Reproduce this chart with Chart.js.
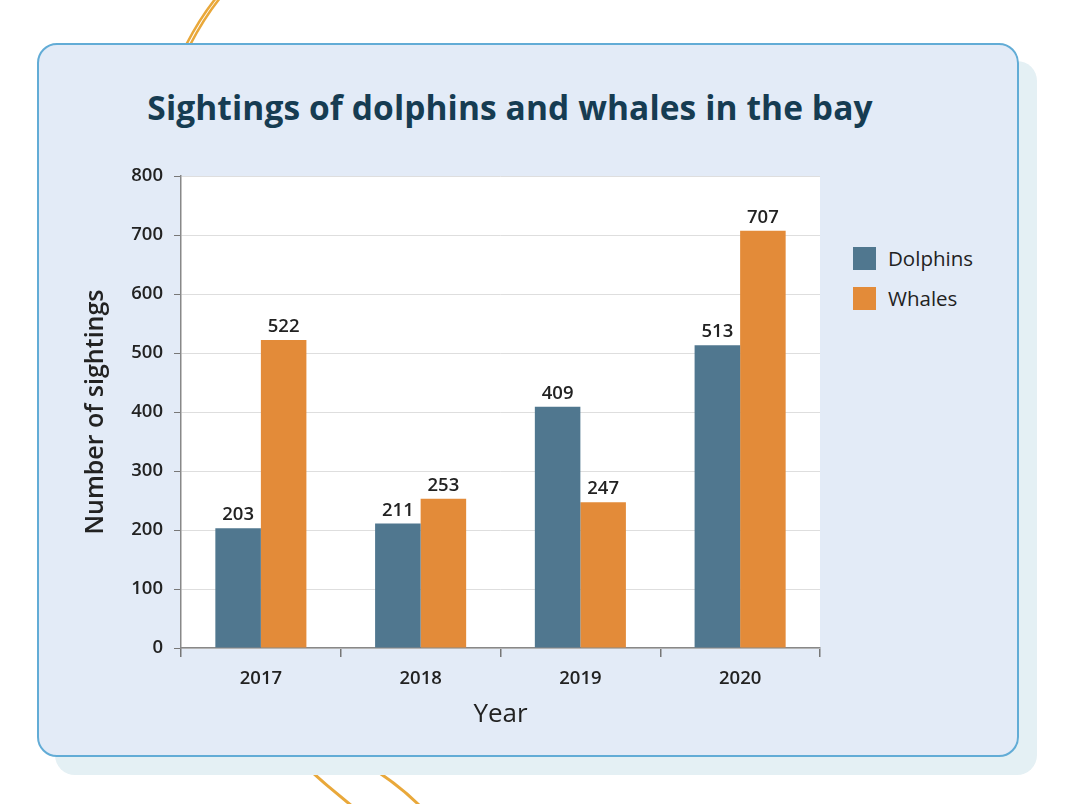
<!DOCTYPE html>
<html>
<head>
<meta charset="utf-8">
<script src="https://cdn.jsdelivr.net/npm/chart.js@4.4.1/dist/chart.umd.min.js"></script>
<style>
  html, body { margin: 0; padding: 0; background: #fff; }
  #page { position: relative; width: 1080px; height: 804px; overflow: hidden; font-family: "Open Sans", sans-serif; }
  #deco { position: absolute; left: 0; top: 0; }
  .shadow { position: absolute; left: 55px; top: 61px; width: 982px; height: 714px; border-radius: 20px; background: #e4f0f4; }
  .card { position: absolute; left: 37px; top: 43px; width: 978px; height: 710px; border-radius: 20px; background: #e3ebf7; border: 2px solid #62acd6; }
  h1 { position: absolute; left: 0; width: 1020px; top: 84px; margin: 0; text-align: center; font-size: 33.5px; font-weight: 700; color: #163c52; letter-spacing: 0.1px; }
  #legend { position: absolute; left: 853px; top: 246px; }
  .item { display: flex; align-items: center; height: 24px; margin-bottom: 16px; font-size: 20.5px; font-weight: 500; color: #222; }
  .sw { width: 23px; height: 23px; margin-right: 12px; }
  canvas { position: absolute; left: 0; top: 0; }
</style>
</head>
<body>
<div id="page">
  <svg id="deco" width="1080" height="804">
    <path d="M186 45 Q 200 18 216 -2" stroke="#e9a83a" stroke-width="2.5" fill="none"/>
    <path d="M190 45 Q 204 18 220 -2" stroke="#e9a83a" stroke-width="2.5" fill="none"/>
    <path d="M293 755 Q 322 782 352 806" stroke="#e9a83a" stroke-width="3" fill="none"/>
    <path d="M350 755 Q 392 778 420 806" stroke="#e9a83a" stroke-width="3" fill="none"/>
  </svg>
  <div class="shadow"></div>
  <div class="card"></div>
  <h1>Sightings of dolphins and whales in the bay</h1>
  <div id="legend"></div>
  <canvas id="chart" width="1080" height="804"></canvas>
</div>
<script>
const years = ['2017', '2018', '2019', '2020'];
const dolphins = [203, 211, 409, 513];
const whales = [522, 253, 247, 707];
const seriesNames = ['Dolphins', 'Whales'];
const seriesColors = ['#50778f', '#e38b39'];

// légende HTML
document.getElementById('legend').innerHTML = seriesNames
  .map((n, i) => `<div class="item"><span class="sw" style="background:${seriesColors[i]}"></span>${n}</div>`)
  .join('');

const plotBg = {
  id: 'plotBg',
  beforeDraw(chart) {
    const { ctx, chartArea: a } = chart;
    ctx.save();
    ctx.fillStyle = '#ffffff';
    ctx.fillRect(a.left, a.top, a.right - a.left, a.bottom - a.top);
    ctx.restore();
  }
};

const valueLabels = {
  id: 'valueLabels',
  afterDatasetsDraw(chart) {
    const { ctx } = chart;
    ctx.save();
    ctx.font = '600 18.5px "Open Sans"';
    ctx.fillStyle = '#222';
    ctx.textAlign = 'center';
    ctx.textBaseline = 'bottom';
    chart.data.datasets.forEach((ds, i) => {
      chart.getDatasetMeta(i).data.forEach((bar, j) => {
        ctx.fillText(ds.data[j], bar.x, bar.y - 4);
      });
    });
    ctx.restore();
  }
};

const tickFont = { family: 'Open Sans', size: 18.5, weight: '600' };

new Chart(document.getElementById('chart'), {
  type: 'bar',
  data: {
    labels: years,
    datasets: [
      { label: seriesNames[0], data: dolphins, backgroundColor: seriesColors[0] },
      { label: seriesNames[1], data: whales, backgroundColor: seriesColors[1] },
    ],
  },
  options: {
    responsive: false,
    animation: false,
    layout: { padding: { left: 81, right: 260, top: 176, bottom: 66 } },
    datasets: { bar: { barPercentage: 1, categoryPercentage: 0.57 } },
    plugins: { legend: { display: false }, tooltip: { enabled: false } },
    scales: {
      x: {
        afterFit: s => { s.height = 90; },
        grid: { drawOnChartArea: false, tickLength: 9, tickColor: '#777', lineWidth: 1.5 },
        border: { color: '#888', width: 1.5 },
        ticks: { color: '#222', font: tickFont, padding: 11 },
        title: { display: true, text: 'Year', color: '#222', font: { family: 'Open Sans', size: 26, weight: '500' }, padding: { top: 0, bottom: 8 } },
      },
      y: {
        min: 0, max: 800,
        afterFit: s => { s.width = 100; },
        grid: { color: '#dedede', tickColor: '#777', tickLength: 7 },
        border: { color: '#888', width: 1.5 },
        ticks: { stepSize: 100, color: '#222', font: tickFont, padding: 11 },
        title: { display: true, text: 'Number of sightings', color: '#222', font: { family: 'Open Sans', size: 25, weight: '600' }, padding: { top: 0, bottom: 0 } },
      },
    },
  },
  plugins: [plotBg, valueLabels],
});
</script>
</body>
</html>
